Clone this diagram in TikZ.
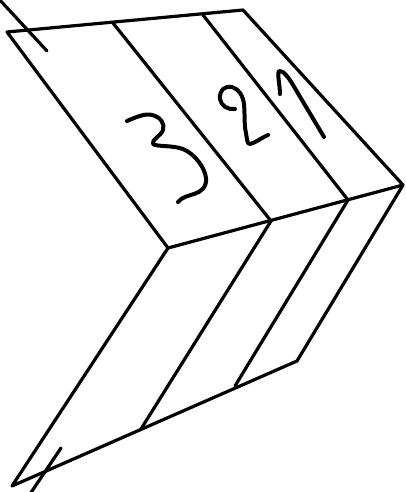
\documentclass[tikz,border=0pt]{standalone}
\tikzset{ink/.style={draw=black,line width=2.4pt,line cap=round,line join=round},
digit/.style={ink,line width=3pt}}
\begin{document}
\begin{tikzpicture}[x=0.75pt,y=-0.75pt]
\useasboundingbox (0,0) rectangle (405,492);
\clip (0,0) rectangle (405,492);
% outline
\draw[ink] (7,32) -- (243,10) -- (403,185) -- (297,361) -- (12,486) -- (168,248) -- cycle;
\draw[ink] (168,248) -- (403,185);
% dividers
\draw[ink] (113,23) -- (271,221) -- (141,429);
\draw[ink] (203,15) -- (348,200) -- (235,386);
% overshoot ticks
\draw[ink] (-2,-2) -- (47,51);
\draw[ink] (61,448) -- (30,494);
% handwritten 3
\draw[digit] (127,121) .. controls (136,117) and (146,113) .. (152,115)
  .. controls (161,117) and (165,124) .. (163,130)
  .. controls (161,136) and (151,140) .. (153,144)
  .. controls (157,147) and (172,145) .. (183,149)
  .. controls (195,154) and (205,168) .. (206,178)
  .. controls (207,187) and (201,192) .. (194,194)
  .. controls (188,196) and (182,197) .. (178,202);
% handwritten 2
\draw[digit] (235,109) .. controls (228,110) and (221,106) .. (220,99)
  .. controls (219,90) and (226,85) .. (232,87)
  .. controls (239,89) and (243,96) .. (244,104)
  .. controls (245,115) and (244,125) .. (246,133)
  .. controls (247,139) and (247,144) .. (250,144)
  .. controls (255,143) and (261,138) .. (268,135);
% handwritten 1
\draw[digit] (280,94) .. controls (280,86) and (277,74) .. (279,71)
  .. controls (283,70) and (289,78) .. (293,85)
  -- (324,137);
\end{tikzpicture}
\end{document}
